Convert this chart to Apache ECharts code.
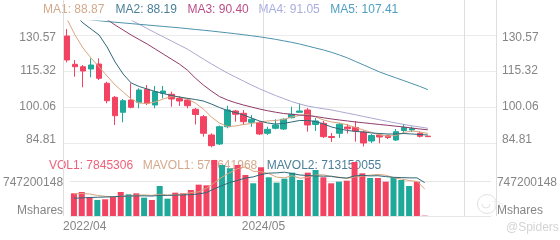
<!DOCTYPE html>
<html>
<head>
<meta charset="utf-8">
<script src="https://cdn.jsdelivr.net/npm/echarts@6/dist/echarts.min.js"></script>
<style>html,body{margin:0;padding:0;background:#fff}#c{width:560px;height:240px}</style>
</head>
<body>
<div id="c"></div>
<script>
// ---- categories (monthly, 54 slots; data fills first 46) ----
const categories = [];
for (let y = 2022, m = 4, k = 0; k < 54; k++) {
  categories.push(y + '/' + String(m).padStart(2, '0'));
  m++; if (m > 12) { m = 1; y++; }
}
const xLabelIdx = [0, 25];
const xSplitIdx = [0, 25, 50, 54];

// ---- OHLC ----
const open  = [130.13,118.15,117.13,116.16,118.27,110.10,104.17,97.81,103.02,102.05,107.56,100.90,105.86,105.44,103.66,103.02,99.09,95.95,88.20,84.39,91.71,98.37,97.39,93.58,93.41,88.92,91.04,90.74,95.53,97.81,98.79,92.65,93.15,87.56,88.92,91.59,91.38,89.47,85.66,88.20,87.90,86.08,90.10,90.32,88.92,87.70];
const close = [119.97,117.13,115.31,117.85,112.22,102.73,96.37,102.73,99.93,107.26,101.63,106.54,106.84,103.45,102.60,100.61,96.88,88.92,83.67,91.71,98.79,96.97,93.83,94.85,88.62,90.61,92.44,94.85,96.97,98.37,92.43,94.13,87.48,87.14,92.77,90.83,89.89,84.81,88.00,87.35,87.14,89.60,91.38,90.95,87.65,87.50];
const low   = [119.00,112.90,108.40,112.64,111.50,101.63,92.43,93.58,99.50,99.50,100.90,99.50,103.74,100.19,100.48,99.50,92.65,87.48,82.99,83.96,91.04,93.83,92.43,91.71,88.20,88.20,90.61,90.32,95.27,97.81,89.60,89.89,86.93,85.23,86.93,88.83,85.36,83.33,84.81,84.68,86.50,85.66,88.83,89.47,87.14,87.35];
const high  = [133.10,119.97,117.85,120.69,120.69,110.78,104.72,103.45,110.10,107.98,109.38,108.96,108.96,106.54,104.72,103.74,99.64,96.67,88.92,92.20,100.61,98.79,98.79,96.67,94.13,91.71,94.85,95.27,100.19,101.63,99.64,95.40,94.13,89.05,93.28,92.86,94.13,90.10,88.62,88.83,88.41,90.74,92.86,91.80,89.60,87.80];

// ---- moving average lines ----
const ma1 = [137.34,130.56,125.05,120.82,117.00,113.19,109.38,106.41,103.45,101.75,101.54,102.18,103.45,104.51,104.30,103.45,101.75,99.21,95.82,93.28,91.80,92.01,92.65,93.07,93.71,94.13,94.34,94.76,95.82,96.46,96.88,95.82,94.55,93.71,93.28,92.43,91.38,90.32,89.26,88.20,87.70,88.00,89.30,89.90,89.50,88.87];
const ma2 = [142.00,139.03,135.64,133.10,130.56,125.48,119.12,114.04,110.23,108.74,107.68,106.63,105.78,104.93,104.30,103.75,103.24,102.60,101.33,99.85,98.58,97.73,96.67,95.40,94.13,93.28,92.86,93.07,93.71,94.34,94.34,93.92,92.86,91.59,90.74,90.11,89.68,89.47,89.05,88.83,88.62,88.62,88.83,88.62,88.41,88.19];
const ma3 = [149.62,147.08,144.54,142.00,139.46,137.13,134.80,132.68,130.56,128.65,126.75,124.63,122.51,120.39,118.28,115.73,112.34,109.38,106.84,104.51,103.03,101.88,100.91,100.06,99.21,98.49,97.86,97.31,96.97,96.67,96.46,96.04,95.49,94.98,94.55,94.13,93.71,93.37,92.99,92.65,92.31,91.93,91.59,91.16,90.74,90.40];
const ma4 = [150.47,148.78,147.08,145.39,143.69,142.00,140.30,138.61,136.91,135.09,133.31,131.53,129.80,128.06,126.32,124.63,122.51,120.39,118.36,116.37,114.46,112.77,111.07,109.38,107.81,106.33,104.93,103.66,102.39,101.33,100.48,99.85,99.30,98.79,98.11,97.43,96.76,96.04,95.32,94.64,93.96,93.28,92.69,92.10,91.59,91.05];
const ma5 = [137.97,137.63,137.30,136.96,136.62,136.28,135.98,135.69,135.39,135.09,134.80,134.50,134.20,133.91,133.61,133.27,132.93,132.59,132.25,131.87,131.49,131.11,130.69,130.26,129.80,129.29,128.74,128.10,127.47,126.75,125.90,125.05,124.21,123.23,122.09,120.82,119.33,117.85,116.37,114.89,113.62,112.43,111.24,110.01,108.79,107.41];

// ---- volume ----
const volume = [484300000,512100000,406200000,342500000,356400000,413000000,512300000,462100000,484000000,391200000,342300000,640400000,370100000,498200000,484500000,555300000,669200000,655000000,1196300000,1089100000,1018400000,1089500000,875200000,698300000,1040100000,826200000,712400000,797300000,925100000,769400000,925300000,982200000,826400000,698100000,733200000,754300000,1153200000,911400000,811300000,811100000,733400000,826100000,769200000,640300000,733100000,7845306];
const mavol1 = [470000000,480000000,470000000,440000000,420000000,410000000,420000000,420000000,445000000,450000000,440000000,465000000,445000000,450000000,465000000,500000000,515000000,590000000,710000000,830000000,925000000,1010000000,1050000000,955000000,945000000,905000000,830000000,815000000,860000000,806000000,826000000,875000000,880000000,840000000,830000000,800000000,833000000,850000000,872000000,888000000,870000000,818000000,790000000,756000000,740000000,579641968];
const mavol2 = [380000000,385000000,395000000,400000000,405000000,410000000,420000000,425000000,430000000,430000000,425000000,440000000,440000000,445000000,450000000,455000000,470000000,500000000,580000000,650000000,715000000,760000000,810000000,835000000,885000000,915000000,920000000,935000000,905000000,875000000,865000000,855000000,850000000,850000000,820000000,810000000,855000000,868000000,856000000,860000000,841000000,826000000,820000000,814000000,814000000,713150055];

// ---- axis ticks ----
const priceTicks = [84.81, 100.06, 115.32, 130.57];
const volTicks = [0, 747200148];
const volUnit = 'Mshares';

const UP = '#1fa99b', DOWN = '#f24462';
const maColors = ['#d9a47d', '#2f6878', '#8f3b68', '#aba8d2', '#4d92aa'];
const maText = ['#d3a98b', '#4b7f98', '#bd4d87', '#a8aee0', '#4f9fc2'];
const FONT = 'Liberation Sans';
const LBL = '#858585';

const candles = open.map((o, i) => [o, close[i], low[i], high[i]]);

function priceFmt(v) {
  const s = v.toFixed(2);
  if (Math.abs(v - priceTicks[priceTicks.length - 1]) < 1e-6) return '{dn|' + s + '}';
  if (Math.abs(v - priceTicks[0]) < 1e-6) return '{up|' + s + '}';
  return '{n|' + s + '}';
}
function volFmt(v) {
  if (v === 0) return '{up2|' + volUnit + '}';
  return '{dn2|' + String(v) + '}';
}
const rich = {
  n: {fontFamily: FONT, fontSize: 12, color: LBL},
  dn: {fontFamily: FONT, fontSize: 12, color: LBL, padding: [6, 0, 0, 0]},
  up: {fontFamily: FONT, fontSize: 12, color: LBL, padding: [0, 0, 7, 0]},
  dn2: {fontFamily: FONT, fontSize: 12, color: LBL, padding: [3, 0, 0, 0]},
  up2: {fontFamily: FONT, fontSize: 12, color: LBL, padding: [0, 0, 10, 0]}
};

const hiddenCat = (g) => ({
  type: 'category', gridIndex: g, data: categories, boundaryGap: true,
  axisLine: {show: false}, axisTick: {show: false}, axisLabel: {show: false}, splitLine: {show: false}
});
const priceAxis = (pos, split) => ({
  type: 'value', gridIndex: 0, position: pos, min: 81.84, max: 136.5, scale: true,
  axisLine: {show: false},
  axisTick: {show: false, customValues: priceTicks},
  axisLabel: {customValues: priceTicks, formatter: priceFmt, rich: rich, margin: pos === 'left' ? 7 : 6,
              fontFamily: FONT, fontSize: 12, color: LBL},
  splitLine: {show: split, lineStyle: {color: '#ebebeb', width: 1}}
});
const volAxis = (pos, split) => ({
  type: 'value', gridIndex: 1, position: pos, min: 0, max: 1238200000,
  axisLine: {show: false},
  axisTick: {show: false, customValues: volTicks},
  axisLabel: {customValues: volTicks, formatter: volFmt, rich: rich, margin: pos === 'left' ? 7 : 6,
              fontFamily: FONT, fontSize: 12, color: LBL},
  splitLine: {show: split, lineStyle: {color: '#e6e6e6', width: 1}}
});

const maSeries = [ma1, ma2, ma3, ma4, ma5].map((d, k) => ({
  name: 'MA' + (k + 1), type: 'line', xAxisIndex: 0, yAxisIndex: 0, data: d,
  symbol: 'none', smooth: false, lineStyle: {width: 1, color: maColors[k]}, z: 3
}));

const graphics = [];
const maX = [43, 115.6, 187.4, 258.4, 330.2];
[ma1, ma2, ma3, ma4, ma5].forEach((d, k) => {
  graphics.push({type: 'text', left: maX[k], top: 4, z: 0,
    style: {text: 'MA' + (k + 1) + ': ' + d[d.length - 1].toFixed(2), fill: maText[k], font: '12px "' + FONT + '"'}});
});
const volX = [49, 142.7, 266.7];
const volTexts = ['VOL1: ' + volume[volume.length - 1], 'MAVOL1: ' + mavol1[mavol1.length - 1], 'MAVOL2: ' + mavol2[mavol2.length - 1]];
const volCols = ['#f0607a', '#d3a98b', '#4b7f98'];
volTexts.forEach((t, k) => {
  graphics.push({type: 'text', left: volX[k], top: 159.5, z: 0, silent: true,
    style: {text: t, fill: volCols[k], font: '12px "' + FONT + '"'}});
});
graphics.push({type: 'circle', shape: {cx: 487, cy: 204, r: 9.5}, z: 0, silent: true,
  style: {fill: 'none', stroke: '#e2e2e2', lineWidth: 1}});
graphics.push({type: 'arc', shape: {cx: 486, cy: 204, r: 4, startAngle: 0, endAngle: Math.PI}, z: 0, silent: true,
  style: {fill: 'none', stroke: '#e2e2e2', lineWidth: 1}});
graphics.push({type: 'text', left: 492, top: 201, z: 0, silent: true,
  style: {text: 'Th', fill: '#ececec', font: '10px "' + FONT + '"'}});
graphics.push({type: 'text', left: 506, top: 221.5, z: 0, silent: true,
  style: {text: '@Spiders', fill: '#d4d4d4', font: '12px "' + FONT + '"'}});

const option = {
  animation: false,
  backgroundColor: '#fff',
  grid: [
    {left: 63, right: 64, top: 21, height: 129},
    {left: 63, right: 64, top: 158, height: 58},
    {left: 63, right: 64, top: 0, height: 216}
  ],
  xAxis: [
    hiddenCat(0),
    hiddenCat(1),
    {type: 'value', gridIndex: 2, min: 0, max: categories.length,
     axisLine: {show: false},
     axisTick: {show: false, customValues: xSplitIdx},
     axisLabel: {customValues: xLabelIdx, formatter: v => categories[v] || '', alignMinLabel: 'left',
                 margin: 5, fontFamily: FONT, fontSize: 12, color: LBL},
     splitLine: {show: true, lineStyle: {color: '#dedede', width: 1}}}
  ],
  yAxis: [
    priceAxis('left', true), priceAxis('right', false),
    volAxis('left', true), volAxis('right', false),
    {type: 'value', gridIndex: 2, show: false, min: 0, max: 1, splitLine: {show: false}}
  ],
  graphic: graphics,
  series: [
    {type: 'candlestick', xAxisIndex: 0, yAxisIndex: 0, data: candles, barWidth: 6,
     itemStyle: {color: UP, color0: DOWN, borderColor: UP, borderColor0: DOWN, borderWidth: 1}, z: 2},
    ...maSeries,
    {type: 'bar', xAxisIndex: 1, yAxisIndex: 2, data: volume, barWidth: 6, z: 2,
     itemStyle: {color: p => (close[p.dataIndex] >= open[p.dataIndex] ? UP : DOWN)}},
    {type: 'line', xAxisIndex: 1, yAxisIndex: 2, data: mavol1, symbol: 'none', lineStyle: {width: 1, color: maColors[0]}, z: 3},
    {type: 'line', xAxisIndex: 1, yAxisIndex: 2, data: mavol2, symbol: 'none', lineStyle: {width: 1, color: maColors[1]}, z: 3}
  ]
};
const chart = echarts.init(document.getElementById('c'), null, {renderer: 'canvas'});
chart.setOption(option);
</script>
</body>
</html>
